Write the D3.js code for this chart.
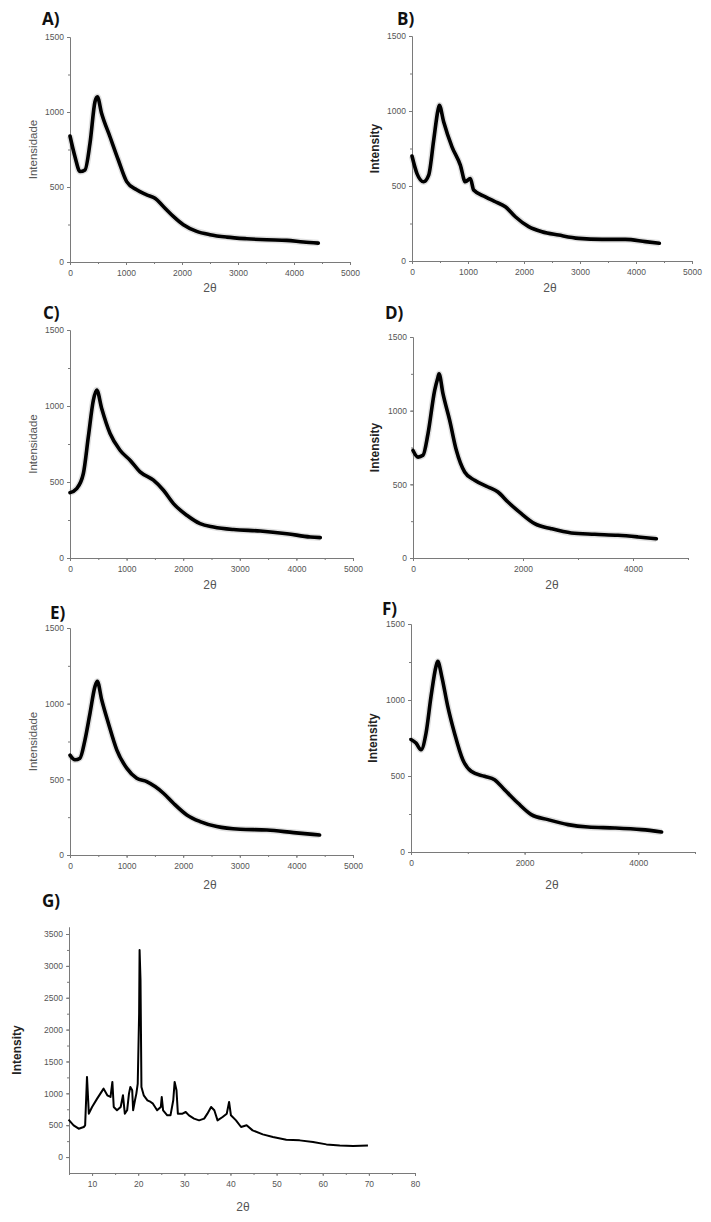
<!DOCTYPE html>
<html><head><meta charset="utf-8">
<script src="https://cdn.jsdelivr.net/npm/d3@7"></script>
<style>body{margin:0;background:#fff}svg{display:block}</style>
</head><body>
<svg id="c" width="711" height="1222"></svg>
<script>
// ---- data ----
const aX=[0,89,179,268,357,446,488,565,714,863,1012,1190,1369,1518,1667,1845,2024,2262,2500,2797,3155,3512,3869,4167,4434];
const aY=[840,702,603,614,791,1068,1101,990,835,680,536,481,448,425,370,304,248,204,182,166,155,148,144,133,126];
const bX=[0,89,208,298,387,464,488,565,714,863,952,1042,1101,1310,1488,1667,1845,2083,2321,2619,2976,3393,3810,4167,4417];
const bY=[700,583,528,572,805,1005,1038,928,761,639,528,550,473,428,395,362,295,229,195,173,151,144,144,129,118];
const cX=[0,118,236,324,413,472,560,708,884,1061,1238,1474,1651,1828,2064,2299,2535,2889,3361,3832,4245,4422];
const cY=[430,457,556,797,1039,1105,984,819,709,643,567,512,446,358,281,226,204,187,178,160,138,134];
const dX=[0,91,182,273,394,455,473,545,667,788,939,1121,1364,1545,1727,1970,2212,2515,2879,3303,3727,4091,4424];
const dY=[730,685,697,844,1138,1228,1251,1115,934,731,584,527,482,448,380,301,233,199,170,161,154,143,131];
const eX=[0,88,177,265,354,442,483,560,678,826,1002,1179,1356,1503,1651,1828,2064,2299,2594,3007,3479,3950,4410];
const eY=[660,629,640,761,938,1114,1147,1026,871,695,574,507,485,452,408,342,265,221,188,170,165,148,132];
const fX=[0,88,176,265,353,441,471,541,647,765,912,1059,1294,1471,1647,1882,2118,2412,2765,3118,3588,4059,4412];
const fY=[740,717,673,783,1024,1222,1254,1156,958,783,607,531,498,476,410,322,246,213,180,164,158,147,132];
const gX=[4.9,6.0,7.1,8.2,8.5,8.9,9.3,10.0,11.1,11.8,12.5,13.3,14.0,14.4,14.7,15.4,16.2,16.7,17.1,17.6,18.0,18.3,18.7,18.9,19.3,19.6,19.9,20.2,20.3,20.5,20.7,21.2,22.0,22.7,23.2,24.1,24.9,25.1,25.4,26.3,27.0,27.6,27.9,28.3,28.6,29.6,30.3,31.0,32.1,33.2,34.3,35.0,35.8,36.5,37.2,38.3,39.2,39.7,40.1,41.2,42.3,43.5,44.8,47.0,49.2,52.1,55.0,57.9,60.8,63.7,66.6,69.8];
const gY=[587,498,445,472,498,1258,681,786,917,996,1074,969,943,1179,786,734,786,969,681,734,996,1100,1048,734,891,996,1153,2253,3249,2777,1100,969,891,865,838,734,786,943,734,655,655,891,1179,1048,681,681,707,655,603,576,603,681,786,734,576,629,681,865,655,576,472,498,419,356,314,272,262,236,199,183,173,183];

const yTicks15=[0,500,1000,1500];
const xTicks5k=[0,1000,2000,3000,4000,5000];
const xTicks2k=[0,2000,4000];
const gYTicks=[0,500,1000,1500,2000,2500,3000,3500];
const gXTicks=[10,20,30,40,50,60,70,80];

const panels=[
 {letter:"A)",lx:42,ly:25,x:[70,350],y:[262,37],xd:[0,5000],yd:[0,1500],X:aX,Y:aY,xt:xTicks5k,xm:d3.range(0,5001,500),yt:yTicks15,ym:d3.range(0,1501,250),yl:"Intensidade",bold:false,ylx:33,xlx:210,xly:292},
 {letter:"B)",lx:397,ly:25,x:[412,692],y:[261,36],xd:[0,5000],yd:[0,1500],X:bX,Y:bY,xt:xTicks5k,xm:d3.range(0,5001,500),yt:yTicks15,ym:d3.range(0,1501,250),yl:"Intensity",bold:true,ylx:375,xlx:550,xly:292},
 {letter:"C)",lx:43,ly:319,x:[70,353],y:[558,330],xd:[0,5000],yd:[0,1500],X:cX,Y:cY,xt:xTicks5k,xm:d3.range(0,5001,500),yt:yTicks15,ym:d3.range(0,1501,250),yl:"Intensidade",bold:false,ylx:33,xlx:210,xly:589},
 {letter:"D)",lx:385,ly:319,x:[413,688],y:[558,337],xd:[0,5000],yd:[0,1500],X:dX,Y:dY,xt:xTicks2k,xm:d3.range(0,5001,1000),yt:yTicks15,ym:d3.range(0,1501,250),yl:"Intensity",bold:true,ylx:375,xlx:552,xly:589},
 {letter:"E)",lx:50,ly:619,x:[70,353],y:[855,628],xd:[0,5000],yd:[0,1500],X:eX,Y:eY,xt:xTicks5k,xm:d3.range(0,5001,500),yt:yTicks15,ym:d3.range(0,1501,250),yl:"Intensidade",bold:false,ylx:33,xlx:210,xly:889},
 {letter:"F)",lx:382,ly:615,x:[411,695],y:[852,624],xd:[0,5000],yd:[0,1500],X:fX,Y:fY,xt:xTicks2k,xm:d3.range(0,5001,1000),yt:yTicks15,ym:d3.range(0,1501,250),yl:"Intensity",bold:true,ylx:373,xlx:552,xly:889},
 {letter:"G)",lx:42,ly:907,x:[69,415],y:[1173,927],xd:[5,80],yd:[-250,3610],X:gX,Y:gY,xt:gXTicks,xm:d3.range(5,81,5),yt:gYTicks,ym:d3.range(0,3501,250),yl:"Intensity",bold:true,ylx:17,xlx:243,xly:1211,thin:true}
];

const svg=d3.select("#c");
const AX="#7a7a7a", TX="#555";
panels.forEach(p=>{
  const g=svg.append("g");
  const xs=d3.scaleLinear().domain(p.xd).range(p.x);
  const ys=d3.scaleLinear().domain(p.yd).range(p.y);
  g.append("text").attr("x",p.lx).attr("y",p.ly).text(p.letter)
   .attr("font-family","Open Sans").attr("font-weight","bold").attr("font-size",17).attr("fill","#111");
  const xa=g.append("g").attr("transform",`translate(0,${p.y[0]})`)
    .call(d3.axisBottom(xs).tickValues(p.xt).tickSize(3).tickSizeOuter(0).tickFormat(d3.format("d")));
  const xm=g.append("g").attr("transform",`translate(0,${p.y[0]})`)
    .call(d3.axisBottom(xs).tickValues(p.xm).tickSize(2).tickSizeOuter(0).tickFormat(""));
  const ya=g.append("g").attr("transform",`translate(${p.x[0]},0)`)
    .call(d3.axisLeft(ys).tickValues(p.yt).tickSize(3).tickSizeOuter(0).tickFormat(d3.format("d")));
  const ym=g.append("g").attr("transform",`translate(${p.x[0]},0)`)
    .call(d3.axisLeft(ys).tickValues(p.ym).tickSize(2).tickSizeOuter(0).tickFormat(""));
  [xa,xm,ya,ym].forEach(a=>{
    a.selectAll("path,line").attr("stroke",AX).attr("stroke-width",1);
    a.selectAll("text").attr("fill",TX).attr("font-family","Liberation Sans").attr("font-size",8.5);
  });
  xa.selectAll("text").attr("dy","0.9em");
  const pts=p.X.map((v,i)=>[v,p.Y[i]]);
  const line=d3.line().x(d=>xs(d[0])).y(d=>ys(d[1])).curve(p.thin?d3.curveLinear:d3.curveMonotoneX);
  if(!p.thin){
    g.append("path").datum(pts).attr("d",line).attr("fill","none").attr("stroke","#999").attr("stroke-width",6.5).attr("stroke-opacity",0.3).attr("stroke-linejoin","round");
    g.append("path").datum(pts).attr("d",line).attr("fill","none").attr("stroke","#000").attr("stroke-width",3.6).attr("stroke-linejoin","round").attr("stroke-linecap","round");
  } else {
    g.append("path").datum(pts).attr("d",line).attr("fill","none").attr("stroke","#000").attr("stroke-width",2).attr("stroke-linejoin","round");
  }
  const cy=(p.y[0]+p.y[1])/2;
  g.append("text").attr("transform",`translate(${p.ylx},${cy}) rotate(-90)`).attr("text-anchor","middle")
   .attr("dy","0.35em").text(p.yl).attr("font-family","Liberation Sans")
   .attr("font-weight",p.bold?"bold":"normal").attr("font-size",p.bold?12:11.5).attr("fill",p.bold?"#222":TX);
  g.append("text").attr("x",p.xlx).attr("y",p.xly).attr("text-anchor","middle").text("2θ")
   .attr("font-family","Liberation Sans").attr("font-size",12).attr("fill",TX);
});
</script>
</body></html>
